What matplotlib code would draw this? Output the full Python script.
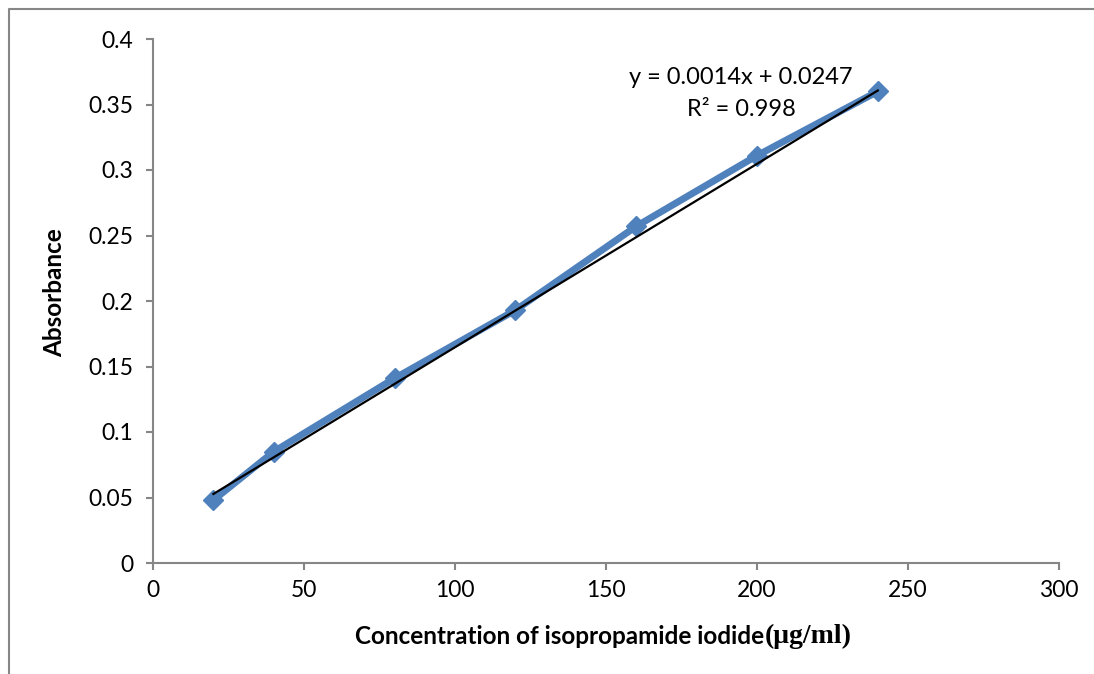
import matplotlib
matplotlib.use("Agg")
import matplotlib.pyplot as plt
from matplotlib.lines import Line2D
import numpy as np

concentration = [20, 40, 80, 120, 160, 200, 240]
absorbance = [0.048, 0.085, 0.141, 0.193, 0.257, 0.311, 0.360]
slope = 0.0014
intercept = 0.0247
r_squared = 0.998
x_ticks = [0, 50, 100, 150, 200, 250, 300]
y_ticks = [0, 0.05, 0.1, 0.15, 0.2, 0.25, 0.3, 0.35, 0.4]
y_tick_labels = ["0", "0.05", "0.1", "0.15", "0.2", "0.25", "0.3", "0.35", "0.4"]

W, H = 1094, 674
fig = plt.figure(figsize=(W / 100, H / 100), dpi=100)
ax = fig.add_axes([153 / W, 1 - 563 / H, (1059 - 153) / W, (563 - 39) / H])

font = ["Lato", "DejaVu Sans"]
gray = "#868686"

ax.plot(concentration, absorbance, color="#4F81BD", lw=5, marker="D",
        markersize=10, markerfacecolor="#4F81BD", markeredgecolor="#4F81BD",
        zorder=2, solid_capstyle="round")
xt = np.array([concentration[0], concentration[-1]])
ax.plot(xt, slope * xt + intercept, color="black", lw=1.6, zorder=3)

ax.set_xlim(0, 300)
ax.set_ylim(0, 0.4)
ax.set_xticks(x_ticks)
ax.set_xticklabels([str(v) for v in x_ticks], fontfamily=font, fontsize=16.5)
ax.set_yticks(y_ticks)
ax.set_yticklabels(y_tick_labels, fontfamily=font, fontsize=16.5)
for s in ["top", "right"]:
    ax.spines[s].set_visible(False)
for s in ["left", "bottom"]:
    ax.spines[s].set_color(gray)
    ax.spines[s].set_linewidth(1.5)
ax.tick_params(axis="both", direction="out", length=5, width=1.5, color=gray,
               labelcolor="black")
ax.tick_params(axis="x", pad=7)
ax.tick_params(axis="y", pad=9)

fig.text(55 / W, 1 - 293 / H, "Absorbance", rotation=90, ha="center", va="center",
         fontsize=17.5, fontweight="bold", fontfamily=font)
t1 = fig.text(355 / W, 1 - 636 / H, "Concentration of isopropamide iodide", ha="left",
              va="center", fontsize=17.5, fontweight="bold", fontfamily=font)
fig.canvas.draw()
bb = t1.get_window_extent()
fig.text(bb.x1 / W + 0.001, 1 - 636 / H, "(\u03bcg/ml)", ha="left", va="center",
         fontsize=20, fontweight="bold", fontfamily=["Liberation Serif", "DejaVu Serif"])

fig.text(741 / W, 1 - 77 / H, f"y = {slope}x + {intercept}", ha="center", va="center",
         fontsize=17, fontfamily=font)
fig.text(741 / W, 1 - 110 / H, f"R\u00b2 = {r_squared}", ha="center", va="center",
         fontsize=17, fontfamily=font)

fig.add_artist(Line2D([9 / W, 9 / W, 1.0], [0.0, 1 - 8.5 / H, 1 - 8.5 / H],
                      transform=fig.transFigure, color=gray, lw=1.5))

fig.savefig("out.png", dpi=100)
